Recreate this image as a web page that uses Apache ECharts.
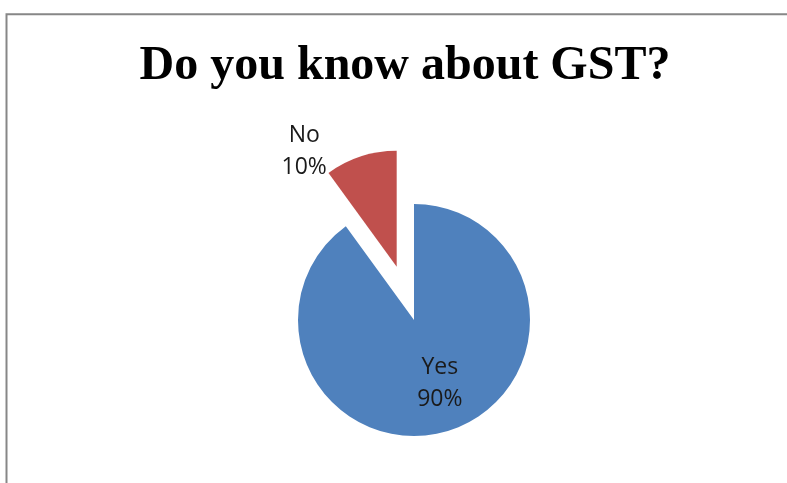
<!DOCTYPE html>
<html>
<head>
<meta charset="utf-8">
<script src="https://cdn.jsdelivr.net/npm/echarts@6/dist/echarts.min.js"></script>
<style>
  html, body { margin: 0; padding: 0; background: #fff; }
  #chart { width: 787px; height: 483px; }
</style>
</head>
<body>
<div id="chart"></div>
<script>
// Survey answers and their shares (percent)
const categories = ['Yes', 'No'];
const shares = [90, 10];
const sliceColors = ['#4F81BD', '#C0504D'];
const titleText = 'Do you know about GST?';

const chart = echarts.init(document.getElementById('chart'), null, { renderer: 'canvas' });

const pieData = categories.map((name, i) => ({
  name: name,
  value: shares[i],
  selected: name === 'No',
  itemStyle: { color: sliceColors[i] },
  label: name === 'No'
    ? { position: 'outside' }
    : { position: 'inside' }
}));

// small nudges so the data labels sit where Excel-style best fit puts them
const labelNudge = {
  Yes: { dx: 7, dy: 5 },
  No: { dx: -17, dy: 9, align: 'center' }
};

chart.setOption({
  animation: false,
  backgroundColor: '#ffffff',
  title: {
    text: titleText,
    left: 400,
    textAlign: 'center',
    top: 38,
    textStyle: {
      fontFamily: '"Liberation Serif", "Times New Roman", serif',
      fontWeight: 'bold',
      fontSize: 48,
      color: '#000000'
    }
  },
  graphic: [{
    type: 'polyline',
    shape: { points: [[6.5, 483], [6.5, 14.3], [787, 14.3]] },
    style: { stroke: '#878787', lineWidth: 2, fill: null },
    silent: true
  }],
  series: [{
    type: 'pie',
    center: [414, 320],
    radius: 116,
    startAngle: 90,
    clockwise: true,
    selectedMode: 'single',
    selectedOffset: 56,
    emphasis: { disabled: true },
    labelLine: { show: false },
    label: {
      formatter: function (p) { return p.name + '\n' + p.value + '%'; },
      fontFamily: '"Open Sans", sans-serif',
      fontSize: 23,
      lineHeight: 32,
      color: '#1a1a1a',
      align: 'center'
    },
    labelLayout: function (params) {
      return labelNudge[categories[params.dataIndex]];
    },
    data: pieData
  }]
});
</script>
</body>
</html>
